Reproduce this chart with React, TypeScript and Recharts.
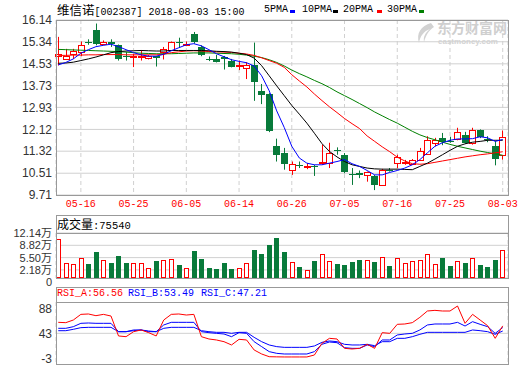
import { ComposedChart, Bar, Line, XAxis, YAxis, CartesianGrid, ReferenceLine } from "recharts";

const dates = [
  "05-11", "05-14", "05-15", "05-16", "05-17", "05-18", "05-21", "05-22", "05-23", "05-24",
  "05-25", "05-28", "05-29", "05-30", "05-31", "06-01", "06-04", "06-05", "06-06", "06-07",
  "06-08", "06-11", "06-12", "06-13", "06-14", "06-15", "06-19", "06-20", "06-21", "06-22",
  "06-25", "06-26", "06-27", "06-28", "06-29", "07-02", "07-03", "07-04", "07-05", "07-06",
  "07-09", "07-10", "07-11", "07-12", "07-13", "07-16", "07-17", "07-18", "07-19", "07-20",
  "07-23", "07-24", "07-25", "07-26", "07-27", "07-30", "07-31", "08-01", "08-02", "08-03",
];
const xTickLabels = ["05-16", "05-25", "06-05", "06-14", "06-26", "07-05", "07-16", "07-25", "08-03"];

const open = [
  14.80, 14.69, 14.90, 14.96, 15.35, 15.79, 15.24, 15.33, 15.21, 14.82,
  14.78, 14.80, 14.74, 14.80, 14.98, 15.02, 15.35, 15.22, 15.64, 15.15,
  14.72, 14.71, 14.78, 14.65, 14.45, 14.37, 14.49, 13.53, 13.42, 11.50,
  11.26, 10.64, 10.83, 10.74, 10.78, 10.88, 10.88, 11.36, 11.19, 10.49,
  10.50, 10.45, 10.39, 10.08, 10.64, 10.90, 10.90, 10.86, 11.01, 11.22,
  11.63, 11.81, 11.69, 11.75, 11.93, 11.63, 12.09, 11.75, 11.50, 11.19,
];
const high = [
  15.52, 15.08, 15.08, 15.35, 15.43, 16.01, 15.39, 15.43, 15.24, 14.96,
  14.90, 15.02, 14.86, 14.82, 15.15, 15.35, 15.49, 15.35, 15.70, 15.21,
  14.80, 14.86, 14.82, 14.71, 14.65, 14.59, 15.31, 13.79, 13.45, 11.78,
  11.44, 10.94, 10.94, 10.88, 10.82, 11.56, 11.63, 11.46, 11.25, 10.70,
  10.61, 10.57, 10.45, 10.67, 10.70, 11.19, 11.00, 11.03, 11.44, 11.87,
  11.81, 11.99, 11.85, 12.18, 12.03, 12.18, 12.12, 11.87, 11.69, 12.08,
];
const low = [
  14.47, 14.67, 14.71, 14.81, 15.23, 15.21, 15.21, 15.15, 14.65, 14.65,
  14.41, 14.65, 14.69, 14.43, 14.69, 15.00, 15.11, 15.18, 15.27, 14.81,
  14.63, 14.58, 14.32, 14.40, 14.30, 13.97, 13.17, 13.05, 12.02, 10.94,
  10.64, 10.45, 10.70, 10.66, 10.41, 10.82, 10.70, 11.19, 10.51, 10.08,
  10.33, 10.20, 9.89, 10.06, 10.57, 10.70, 10.82, 10.83, 10.98, 11.19,
  11.50, 11.54, 11.63, 11.72, 11.59, 11.56, 11.80, 11.65, 10.80, 11.01,
];
const close = [
  14.89, 14.81, 15.00, 15.21, 15.32, 15.24, 15.33, 15.27, 14.71, 14.78,
  14.83, 14.80, 14.80, 14.74, 15.08, 15.33, 15.32, 15.27, 15.33, 14.84,
  14.70, 14.61, 14.72, 14.43, 14.50, 14.50, 13.85, 13.38, 12.06, 11.19,
  10.86, 10.86, 10.80, 10.78, 10.75, 10.94, 11.25, 11.32, 10.54, 10.46,
  10.46, 10.54, 10.08, 10.64, 10.61, 11.09, 10.94, 10.98, 11.31, 11.72,
  11.72, 11.66, 11.68, 12.02, 11.63, 12.09, 11.85, 11.72, 11.03, 11.84,
];
// 万手
const volume = [
  10.4, 3.94, 3.75, 5.28, 3.75, 6.97, 4.83, 4.10, 5.90, 4.10,
  3.94, 3.94, 2.68, 4.56, 4.83, 5.09, 3.49, 2.68, 7.24, 5.09,
  2.76, 2.41, 3.94, 2.41, 2.68, 3.94, 7.50, 6.43, 8.85, 10.9,
  6.97, 4.20, 2.87, 2.14, 4.56, 6.35, 4.56, 3.75, 3.49, 4.37,
  4.83, 4.74, 4.29, 5.71, 3.22, 5.28, 3.94, 4.56, 4.83, 6.35,
  3.67, 5.36, 3.22, 4.56, 4.10, 5.28, 3.49, 3.03, 4.83, 7.554,
];
const ma5 = [
  14.49, 14.58, 14.71, 14.92, 15.05, 15.16, 15.21, 15.25, 15.16, 15.05,
  14.94, 14.86, 14.81, 14.81, 14.88, 15.01, 15.12, 15.23, 15.27, 15.19,
  15.05, 14.90, 14.79, 14.68, 14.62, 14.57, 14.45, 14.09, 13.54, 12.80,
  12.19, 11.50, 11.07, 10.88, 10.82, 10.82, 10.88, 10.94, 11.01, 10.86,
  10.76, 10.61, 10.45, 10.45, 10.54, 10.61, 10.70, 10.82, 11.01, 11.26,
  11.50, 11.63, 11.72, 11.77, 11.77, 11.78, 11.85, 11.81, 11.68, 11.75,
];
const ma10 = [
  14.55, 14.56, 14.59, 14.65, 14.71, 14.78, 14.86, 14.94, 14.98, 15.00,
  15.01, 15.02, 15.01, 15.00, 15.00, 15.02, 15.02, 15.02, 15.02, 15.02,
  15.01, 14.99, 14.98, 14.96, 14.92, 14.87, 14.74, 14.46, 14.09, 13.72,
  13.36, 13.00, 12.68, 12.35, 11.98, 11.60, 11.31, 11.11, 10.94, 10.82,
  10.76, 10.70, 10.67, 10.66, 10.66, 10.66, 10.65, 10.64, 10.76, 10.88,
  11.03, 11.19, 11.35, 11.50, 11.59, 11.65, 11.68, 11.72, 11.72, 11.72,
];
const ma20 = [
  14.84, 14.84, 14.85, 14.85, 14.86, 14.86, 14.87, 14.87, 14.87, 14.86,
  14.86, 14.86, 14.86, 14.86, 14.88, 14.94, 14.97, 15.00, 15.01, 15.00,
  14.98, 14.97, 14.96, 14.95, 14.92, 14.89, 14.84, 14.75, 14.65, 14.55,
  14.40, 14.13, 13.90, 13.68, 13.42, 13.18, 12.95, 12.74, 12.52, 12.33,
  12.15, 11.88, 11.68, 11.48, 11.30, 11.10, 10.96, 10.86, 10.84, 10.86,
  10.91, 10.96, 11.01, 11.06, 11.11, 11.15, 11.19, 11.22, 11.26, 11.30,
];
const ma30 = [
  15.06, 15.05, 15.04, 15.03, 15.02, 15.01, 15.00, 14.99, 14.98, 14.96,
  14.94, 14.92, 14.91, 14.90, 14.90, 14.90, 14.91, 14.92, 14.93, 14.93,
  14.93, 14.92, 14.91, 14.90, 14.88, 14.85, 14.81, 14.76, 14.68, 14.58,
  14.45, 14.30, 14.17, 14.05, 13.92, 13.80, 13.66, 13.50, 13.36, 13.22,
  13.07, 12.92, 12.76, 12.62, 12.48, 12.35, 12.20, 12.05, 11.92, 11.82,
  11.74, 11.65, 11.57, 11.50, 11.44, 11.38, 11.32, 11.27, 11.22, 11.17,
];
const rsiA = [
  63.0, 62.4, 67.2, 77.5, 78.2, 75.1, 77.5, 74.5, 38.2, 36.9,
  46.0, 49.1, 44.2, 38.2, 67.2, 77.5, 78.2, 76.3, 77.5, 36.9,
  32.7, 30.9, 27.8, 21.8, 32.1, 30.9, 12.7, 5.4, 0.5, 0.2,
  0.0, 0.0, 0.0, 0.0, 3.6, 24.8, 33.9, 32.7, 15.7, 14.5,
  15.7, 23.0, 15.7, 44.2, 43.0, 59.4, 60.0, 62.4, 72.1, 83.6,
  84.8, 83.6, 83.6, 92.7, 61.2, 77.5, 67.2, 56.9, 33.9, 56.56,
];
const rsiB = [
  52.1, 52.1, 55.1, 61.2, 61.8, 61.2, 61.2, 61.2, 46.0, 46.0,
  49.1, 49.1, 46.0, 46.0, 58.2, 63.0, 63.0, 63.0, 63.0, 46.0,
  44.2, 43.0, 41.8, 36.9, 44.2, 43.0, 27.8, 18.8, 9.7, 6.6,
  5.4, 5.4, 5.4, 5.4, 9.7, 23.0, 27.2, 26.0, 16.9, 15.7,
  15.7, 21.8, 18.8, 30.9, 30.9, 40.0, 41.8, 43.0, 49.1, 58.2,
  60.0, 60.0, 60.0, 63.0, 56.3, 64.2, 59.4, 55.1, 43.0, 53.49,
];
const rsiC = [
  47.8, 47.8, 50.3, 53.3, 53.9, 53.9, 53.9, 53.9, 46.0, 46.0,
  47.8, 49.1, 47.2, 46.0, 52.1, 53.9, 53.9, 53.9, 53.9, 47.8,
  46.0, 44.8, 44.8, 43.0, 44.8, 44.8, 35.7, 27.8, 21.8, 18.8,
  17.5, 17.5, 17.5, 17.5, 20.0, 26.6, 29.1, 27.8, 23.0, 21.8,
  21.8, 23.0, 20.6, 27.8, 27.8, 33.9, 33.9, 36.9, 41.2, 44.8,
  44.8, 44.8, 44.8, 44.8, 44.8, 49.1, 47.8, 46.0, 41.2, 47.21,
];

const priceTicks = [9.71, 10.51, 11.32, 12.12, 12.93, 13.73, 14.53, 15.34, 16.14];
const volTicks = [0, 2.18, 5.5, 8.82, 12.14];
const rsiTicks = [-3, 43, 88];

const RED = "#ff0000";
const GREEN = "#087a3a";
const BLUE = "#0000ff";
const GRID = "#d0d0d0";
const BORDER = "#999999";

const rows = dates.map((d, i) => ({
  i,
  date: d,
  open: open[i],
  high: high[i],
  low: low[i],
  close: close[i],
  range: [low[i], high[i]],
  vol: volume[i],
  ma5: ma5[i],
  ma10: ma10[i],
  ma20: ma20[i],
  ma30: ma30[i],
  rsiA: rsiA[i],
  rsiB: rsiB[i],
  rsiC: rsiC[i],
}));

const xTicks = xTickLabels.map((l) => dates.indexOf(l));
const xDomain: [number, number] = [-0.3, 59.7];

const Candle = (props: any) => {
  const { x, y, width, height, payload } = props;
  const top0 = Math.min(y, y + height);
  const h = Math.abs(height);
  const { open: o, close: c, high: hi, low: lo } = payload;
  const k = hi > lo ? h / (hi - lo) : 0;
  const py = (v: number) => top0 + (hi - v) * k;
  const cx = Math.round(x + width / 2);
  const up = c >= o;
  const color = up ? RED : GREEN;
  const bTop = Math.round(py(Math.max(o, c)));
  const bBot = Math.round(py(Math.min(o, c)));
  const wx = cx + 0.5;
  if (up) {
    return (
      <g>
        <line x1={wx} x2={wx} y1={py(hi)} y2={bTop} stroke={color} />
        <line x1={wx} x2={wx} y1={bBot} y2={py(lo)} stroke={color} />
        <rect x={cx - 2.5} y={bTop + 0.5} width={6} height={Math.max(bBot - bTop, 1)} fill="#fff" stroke={color} />
      </g>
    );
  }
  return (
    <g>
      <line x1={wx} x2={wx} y1={py(hi)} y2={py(lo)} stroke={color} />
      <rect x={cx - 3} y={bTop} width={7} height={Math.max(bBot - bTop, 1)} fill={color} />
    </g>
  );
};

const VolBar = (props: any) => {
  const { x, y, width, height, payload } = props;
  const cx = Math.round(x + width / 2);
  const top0 = Math.round(Math.min(y, y + height));
  const h = Math.round(Math.abs(height));
  if (payload.close >= payload.open) {
    return <rect x={cx - 1.5} y={top0 + 0.5} width={4} height={Math.max(h - 1, 1)} fill="#fff" stroke={RED} />;
  }
  return <rect x={cx - 2} y={top0} width={5} height={h} fill={GREEN} />;
};

const labelFont = "Liberation Sans, Noto Sans CJK SC";
const tickStyle = { fill: "#333", fontSize: 12, fontFamily: labelFont };
const mono = "Liberation Mono, DejaVu Sans Mono, monospace";
const cjk = "Noto Sans CJK SC";

// volume axis labels sit close together; the 0 label hangs just under the panel
const VolTick = (props: any) => {
  const { x, y, payload } = props;
  const v = payload.value as number;
  return (
    <text x={x} y={y + (v === 0 ? 4 : 0)} dy="0.355em" textAnchor="end" fill="#333" fontSize={11} fontFamily={labelFont}>
      {v === 0 ? "0" : v.toFixed(2) + "万"}
    </text>
  );
};

const abs = (left: number, top: number, extra: any = {}) => ({ position: "absolute" as const, left, top, ...extra });

const Box = ({ left, top, width, height }: { left: number; top: number; width: number; height: number }) => (
  <div style={abs(left, top, { width, height, border: `1px solid ${BORDER}`, boxSizing: "border-box", pointerEvents: "none" })} />
);

const legend = [
  { label: "5PMA", color: BLUE, x: 264, mx: 290 },
  { label: "10PMA", color: "#000", x: 302, mx: 333 },
  { label: "20PMA", color: RED, x: 343, mx: 377 },
  { label: "30PMA", color: "#008000", x: 387, mx: 419 },
];

export default function App() {
  return (
    <div style={abs(0, 0, { width: 520, height: 365, background: "#fff", overflow: "hidden", fontFamily: "Liberation Sans" })}>
      {/* title */}
      <div style={abs(57, 1, { whiteSpace: "nowrap", lineHeight: "18px", color: "#000" })}>
        <span style={{ fontFamily: cjk, fontSize: 12.5 }}>维信诺</span>
        <span style={{ fontFamily: mono, fontSize: 10 }}>[002387] 2018-08-03 15:00</span>
      </div>
      {legend.map((l) => (
        <div key={l.label}>
          <div style={abs(l.x, 1, { fontFamily: mono, fontSize: 10, lineHeight: "18px", whiteSpace: "nowrap" })}>{l.label}</div>
          <div style={abs(l.mx, 10, { width: 5, height: 3, background: l.color })} />
        </div>
      ))}

      {/* price panel */}
      <div style={abs(0, 0)}>
        <ComposedChart width={520} height={215} data={rows} margin={{ top: 20, right: 12, bottom: 0, left: 6 }}>
          <CartesianGrid vertical={false} stroke={GRID} />
          <CartesianGrid horizontal={false} stroke={GRID} strokeDasharray="4 3" />
          <XAxis
            dataKey="i"
            type="number"
            domain={xDomain}
            ticks={xTicks}
            interval={0}
            height={20}
            axisLine={false}
            tickLine={false}
            tickSize={2}
            tickMargin={3}
            tickFormatter={(v: number) => dates[v]}
            tick={{ fill: RED, fontSize: 10, fontFamily: mono }}
          />
          <YAxis
            domain={[9.71, 16.14]}
            ticks={priceTicks}
            interval={0}
            width={50}
            axisLine={false}
            tickLine={false}
            tickSize={2}
            tickMargin={2}
            tickFormatter={(v: number) => v.toFixed(2)}
            tick={tickStyle}
          />
          <Bar dataKey="range" barSize={7} shape={<Candle />} isAnimationActive={false} />
          <Line dataKey="ma30" stroke="#008000" strokeWidth={1} dot={false} isAnimationActive={false} />
          <Line dataKey="ma20" stroke={RED} strokeWidth={1} dot={false} isAnimationActive={false} />
          <Line dataKey="ma10" stroke="#000" strokeWidth={1} dot={false} isAnimationActive={false} />
          <Line dataKey="ma5" stroke={BLUE} strokeWidth={1} dot={false} isAnimationActive={false} />
        </ComposedChart>
      </div>
      {/* watermark */}
      <div style={abs(437, 20, { fontFamily: cjk, fontSize: 14, fontWeight: 700, color: "#cfcfcf", whiteSpace: "nowrap", lineHeight: "15px" })}>东方财富网</div>
      <div style={abs(438, 38, { fontFamily: "Liberation Sans", fontSize: 8, fontWeight: 700, color: "#d3d3d3", whiteSpace: "nowrap", lineHeight: "8px" })}>eastmoney.com</div>
      <svg style={abs(413, 22)} width={22} height={22}>
        <path d="M18 1 C8 4 3 11 6 21 C7 14 11 9 17 7 C12 11 10 15 11 20 C13 13 16 8 21 5 Z" fill="#d2d2d2" />
      </svg>
      <Box left={56} top={20} width={453} height={176} />

      {/* volume panel */}
      <div style={abs(57, 215, { whiteSpace: "nowrap", lineHeight: "18px" })}>
        <span style={{ fontFamily: cjk, fontSize: 12 }}>成交量</span>
        <span style={{ fontFamily: mono, fontSize: 10.5 }}>:75540</span>
      </div>
      <div style={abs(0, 225)}>
        <ComposedChart width={520} height={66} data={rows} margin={{ top: 8, right: 12, bottom: 13, left: 6 }}>
          <CartesianGrid vertical={false} stroke={GRID} />
          <CartesianGrid horizontal={false} stroke={GRID} strokeDasharray="4 3" />
          <XAxis dataKey="i" type="number" domain={xDomain} ticks={xTicks} height={0} tick={false} axisLine={false} tickLine={false} />
          <YAxis
            domain={[0, 12.14]}
            ticks={volTicks}
            interval={0}
            width={50}
            axisLine={false}
            tickLine={false}
            tickSize={2}
            tickMargin={2}
            tick={<VolTick />}
          />
          <Bar dataKey="vol" barSize={5} shape={<VolBar />} isAnimationActive={false} />
        </ComposedChart>
      </div>
      <Box left={56} top={215} width={453} height={19} />
      <Box left={56} top={233} width={453} height={46} />

      {/* RSI panel */}
      <div style={abs(57, 286, { whiteSpace: "nowrap", lineHeight: "16px", fontFamily: mono, fontSize: 10 })}>
        <span style={abs(0, 0, { color: RED })}>RSI_A:56.56</span>
        <span style={abs(71, 0, { color: BLUE })}>RSI_B:53.49</span>
        <span style={abs(144, 0, { color: BLUE })}>RSI_C:47.21</span>
      </div>
      <div style={abs(0, 294)}>
        <ComposedChart width={520} height={71} data={rows} margin={{ top: 8, right: 12, bottom: 1, left: 6 }}>
          <CartesianGrid horizontal={false} stroke={GRID} strokeDasharray="4 3" />
          <ReferenceLine y={43} stroke={GRID} />
          <XAxis dataKey="i" type="number" domain={xDomain} ticks={xTicks} height={0} tick={false} axisLine={false} tickLine={false} />
          <YAxis
            domain={[-12.8, 100]}
            ticks={rsiTicks}
            interval={0}
            width={50}
            axisLine={false}
            tickLine={false}
            tickSize={2}
            tickMargin={2}
            tick={tickStyle}
          />
          <Line dataKey="rsiC" stroke={BLUE} strokeWidth={1} dot={false} isAnimationActive={false} />
          <Line dataKey="rsiB" stroke={BLUE} strokeWidth={1} dot={false} isAnimationActive={false} />
          <Line dataKey="rsiA" stroke={RED} strokeWidth={1} dot={false} isAnimationActive={false} />
        </ComposedChart>
      </div>
      <Box left={56} top={287} width={453} height={16} />
      <Box left={56} top={302} width={453} height={63} />
    </div>
  );
}
